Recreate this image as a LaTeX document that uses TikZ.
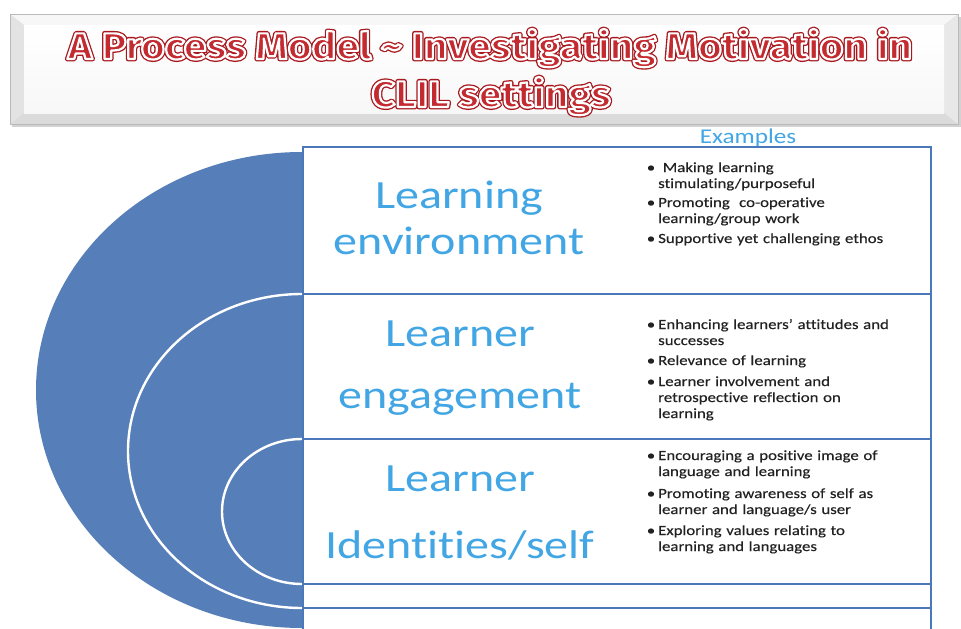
\documentclass[tikz,border=0pt]{standalone}
\usepackage{fontspec}
\setmainfont{Carlito}
\newfontfamily\widefont[FakeStretch=1.2, Ligatures=NoCommon]{Carlito}
\newfontfamily\itemfamily[FakeStretch=1.2, FakeBold=0.35, Ligatures=NoCommon]{Carlito}
\newfontfamily\titlefamily[FakeStretch=1.11]{Fira Sans}

\definecolor{discblue}{RGB}{86,126,184}
\definecolor{framblue}{RGB}{74,120,186}
\definecolor{labelblue}{RGB}{66,166,228}
\definecolor{titlered}{RGB}{196,44,48}
\definecolor{itemgray}{RGB}{34,34,34}

% WordArt-like title lettering: dark red outer rim, white inner rim, red core
\newcommand{\rimtext}[1]{%
  \rlap{\special{pdf:literal direct 2 Tr 4.8 w 1 j 0.66 0.10 0.12 RG 0.66 0.10 0.12 rg}#1}%
  \special{pdf:literal direct 2 Tr 2.2 w 1 j 1 1 1 RG 0.77 0.17 0.19 rg}#1%
  \special{pdf:literal direct 0 Tr 0.4 w}}

\tikzset{
  framebox/.style={draw=framblue, line width=2.2pt},
  ring/.style={draw=white, line width=2.4pt},
  bigtext/.style={font=\widefont\fontsize{40}{44}\selectfont, text=labelblue,
    anchor=base, inner sep=0pt},
  bullet/.style={font=\itemfamily\fontsize{14}{16}\selectfont, text=itemgray,
    anchor=base, inner sep=0pt},
  itemtext/.style={font=\itemfamily\fontsize{14}{16}\selectfont, text=itemgray,
    anchor=base west, inner sep=0pt, text width=280pt, align=left},
  titletext/.style={font=\titlefamily\bfseries\fontsize{37}{40}\selectfont,
    text=titlered, anchor=base, inner sep=0pt},
}

\begin{document}
\begin{tikzpicture}[x=1pt, y=-1pt]
\useasboundingbox (0,0) rectangle (961,629);
\fill[white] (0,0) rectangle (961,629);

% ---- bevelled title panel ----
\fill[gray!35] (12,17) rectangle (961,127);        % soft shadow
\fill[gray!10] (10,14) rectangle (958,124);
\fill[gray!6]  (10,14) -- (958,14) -- (944,25) -- (24,25) -- cycle;      % top bevel
\fill[gray!22] (10,14) -- (24,25) -- (24,113) -- (10,124) -- cycle;      % left bevel
\fill[gray!18] (958,14) -- (958,124) -- (944,113) -- (944,25) -- cycle;  % right bevel
\fill[gray!28] (10,124) -- (24,113) -- (944,113) -- (958,124) -- cycle;  % bottom bevel
\shade[top color=white, bottom color=gray!6] (24,25) rectangle (944,113);
\draw[gray!55, line width=1pt] (10,14) rectangle (958,124);

\node[titletext] (title1) at (490,59)
  {\rimtext{A Process Model \~{} Investigating Motivation in}};
\node[titletext] (title2) at (491,107) {\rimtext{CLIL settings}};

% ---- heading over the examples column ----
\node[font=\widefont\fontsize{21}{24}\selectfont, text=labelblue, anchor=base,
  inner sep=0pt] (examples) at (748,143) {Examples};

% ---- nested half-discs ----
\begin{scope}
  \clip (0,140) rectangle (302.5,640);
  \fill[discblue] (302,390) ellipse [x radius=266, y radius=238];
  \draw[ring] (302,451) ellipse [x radius=174, y radius=157];
  \draw[ring] (302,511.5) ellipse [x radius=80, y radius=72.5];
\end{scope}

% ---- table of levels ----
\fill[white] (304,148) rectangle (930,640);
\draw[framebox] (303,660) -- (303,147) -- (931,147) -- (931,660);
\draw[framebox] (303,294) -- (931,294);
\draw[framebox] (303,439) -- (931,439);
\draw[framebox] (303,584) -- (931,584);
\draw[framebox] (303,608) -- (931,608);

% level labels
\node[bigtext] (env1) at (459,208) {Learning};
\node[bigtext] (env2) at (459,254) {environment};
\node[bigtext] (eng1) at (460,346) {Learner};
\node[bigtext] (eng2) at (460,408) {engagement};
\node[bigtext] (id1)  at (460,491) {Learner};
\node[bigtext] (id2)  at (460,558) {Identities/self};

% examples, level 1
\node[bullet] (b11) at (651,172) {•};
\node[itemtext] (i11) at (658,172) {\ Making learning\\stimulating/purposeful};
\node[bullet] (b12) at (651,207) {•};
\node[itemtext] (i12) at (658,207) {Promoting\ \ co-operative\\learning/group work};
\node[bullet] (b13) at (651,243) {•};
\node[itemtext] (i13) at (658,243) {Supportive yet challenging ethos};

% examples, level 2
\node[bullet] (b21) at (651,329) {•};
\node[itemtext] (i21) at (658,329) {Enhancing learners’ attitudes and\\successes};
\node[bullet] (b22) at (651,365) {•};
\node[itemtext] (i22) at (658,365) {Relevance of learning};
\node[bullet] (b23) at (651,386) {•};
\node[itemtext] (i23) at (658,386) {Learner involvement and\\retrospective reflection on\\learning};

% examples, level 3
\node[bullet] (b31) at (651,460) {•};
\node[itemtext] (i31) at (658,460) {Encouraging a positive image of\\language and learning};
\node[bullet] (b32) at (651,498) {•};
\node[itemtext] (i32) at (658,498) {Promoting awareness of self as\\learner and language/s user};
\node[bullet] (b33) at (651,535) {•};
\node[itemtext] (i33) at (658,535) {Exploring values relating to\\learning and languages};
\end{tikzpicture}
\end{document}
